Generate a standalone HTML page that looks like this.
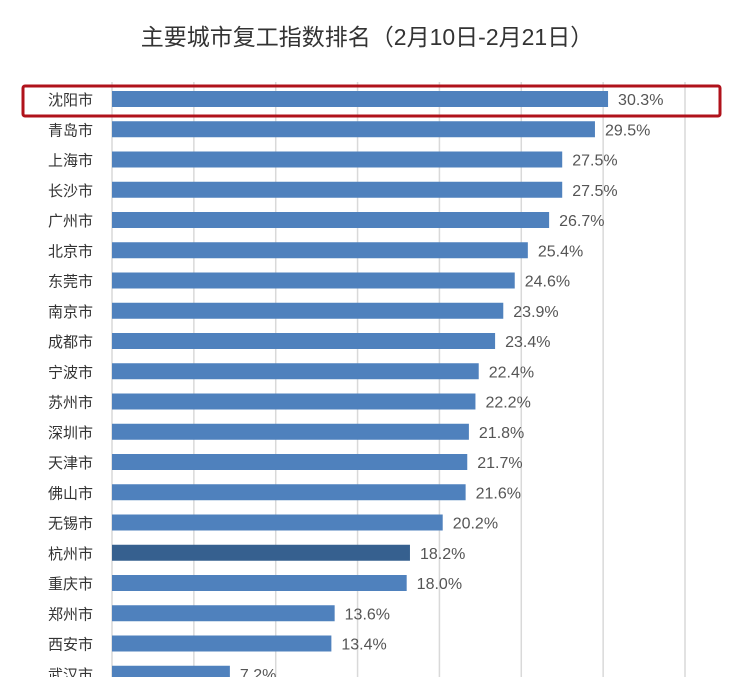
<!DOCTYPE html>
<html><head><meta charset="utf-8"><style>
body{margin:0;background:#fff;width:744px;height:677px;overflow:hidden;font-family:"Liberation Sans","Noto Sans CJK SC",sans-serif;}
</style></head><body>
<svg id="chart" width="744" height="677" xmlns="http://www.w3.org/2000/svg">
<text x="367" y="45" text-anchor="middle" font-size="23" fill="#333" font-family="Liberation Sans, Noto Sans CJK SC, sans-serif">主要城市复工指数排名（2月10日-2月21日）</text>
<g id="grid"></g><g id="bars"></g>
<rect x="23" y="86" width="697" height="30" fill="none" stroke="#b0121b" stroke-width="3" rx="2"/>
</svg>
<script>
const cities=["沈阳市","青岛市","上海市","长沙市","广州市","北京市","东莞市","南京市","成都市","宁波市","苏州市","深圳市","天津市","佛山市","无锡市","杭州市","重庆市","郑州市","西安市","武汉市"];
const values=[30.3,29.5,27.5,27.5,26.7,25.4,24.6,23.9,23.4,22.4,22.2,21.8,21.7,21.6,20.2,18.2,18.0,13.6,13.4,7.2];
const gridTicks=[0,5,10,15,20,25,30,35];
const NS="http://www.w3.org/2000/svg";
const x=v=>112+v*(573/35);
const y=i=>99+i*30.25;
const grid=document.getElementById('grid'),bars=document.getElementById('bars');
gridTicks.forEach(t=>{const l=document.createElementNS(NS,'line');


l.setAttribute('x1',x(t));l.setAttribute('x2',x(t));l.setAttribute('y1',82);l.setAttribute('y2',677);
l.setAttribute('stroke','#d9d9d9');l.setAttribute('stroke-width','1.5');grid.appendChild(l);});
cities.forEach((c,i)=>{
const t=document.createElementNS(NS,'text');


t.setAttribute('x',93);t.setAttribute('y',y(i)+6);t.setAttribute('text-anchor','end');t.setAttribute('font-size','15');t.setAttribute('fill','#333');
t.textContent=c;bars.appendChild(t);
const r=document.createElementNS(NS,'rect');


r.setAttribute('x',x(0));r.setAttribute('y',y(i)-8);r.setAttribute('width',x(values[i])-x(0));r.setAttribute('height',16);
r.setAttribute('fill',c==="杭州市"?'#36608f':'#4f81bd');bars.appendChild(r);
const v=document.createElementNS(NS,'text');


v.setAttribute('x',x(values[i])+10);v.setAttribute('y',y(i)+6);v.setAttribute('font-size','16');v.setAttribute('fill','#555');
v.textContent=values[i].toFixed(1)+'%';bars.appendChild(v);
});
</script>
</body></html>
